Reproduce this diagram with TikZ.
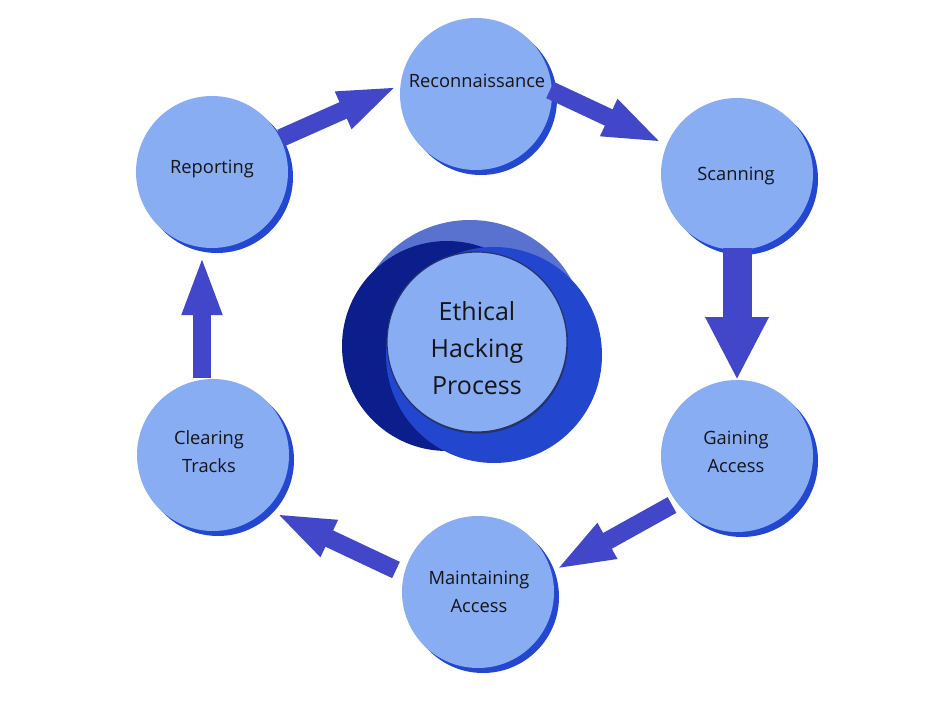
\documentclass[tikz,border=0pt]{standalone}
\usepackage{fontspec}
\setmainfont{Open Sans}
\usetikzlibrary{arrows.meta,calc,shadows}
\definecolor{lightb}{HTML}{88ADF3}
\definecolor{rimb}{HTML}{2447D1}
\definecolor{arrowb}{HTML}{4147C8}
\definecolor{navyb}{HTML}{0C1E8C}
\definecolor{midb}{HTML}{2346CF}
\definecolor{paleb}{HTML}{5A72CF}
\definecolor{edgeb}{HTML}{26336A}
\definecolor{txt}{HTML}{151515}
\begin{document}
\begin{tikzpicture}[x=1pt,y=-1pt,
  stage/.style={circle, fill=lightb, minimum size=152pt, inner sep=0pt,
    general shadow={fill=rimb, shadow xshift=5pt, shadow yshift=-5pt}},
  stagetext/.style={text=txt, align=center, anchor=base, inner sep=0pt,
    font=\fontsize{18.3}{27.5}\selectfont},
  titletext/.style={text=txt, align=center, anchor=base, inner sep=0pt,
    font=\fontsize{25}{37}\selectfont},
  flow/.style={draw=arrowb, line width=18pt, -{Triangle[length=60pt,width=36pt]}},
  bigflow/.style={draw=arrowb, line width=29pt, -{Triangle[length=63pt,width=59pt]}}]
\useasboundingbox[fill=white] (0,0) rectangle (952,714);

% centre emblem
\fill[paleb] (470,336) circle[radius=116pt];
\fill[navyb] (447,346) circle[radius=105pt];
\fill[midb] (494,355) circle[radius=108pt];
\node[circle, fill=lightb, draw=edgeb, line width=1.2pt, minimum size=180pt, inner sep=0pt,
  general shadow={fill=edgeb, shadow xshift=0.8pt, shadow yshift=-1.6pt}] (ctr) at (477,342) {};
\node[titletext] (title) at (477,394) {Ethical\\Hacking\\Process};

% stages
\node[stage] (rec) at (476,94) {};
\node[stage] (scan) at (737,174) {};
\node[stage] (gain) at (737,456) {};
\node[stage] (maint) at (478,592) {};
\node[stage] (clear) at (213,455) {};
\node[stage] (rep) at (212,172) {};

\node[stagetext] (recT) at (477,88) {Reconnaissance};
\node[stagetext] (scanT) at (736,181) {Scanning};
\node[stagetext] (gainT) at (736,472) {Gaining\\Access};
\node[stagetext] (maintT) at (479,612) {Maintaining\\Access};
\node[stagetext] (clearT) at (209,472) {Clearing\\Tracks};
\node[stagetext] (repT) at (212,174) {Reporting};

% arrows
\draw[flow] ($(rep)+(69,-34)$) -- ($(rec)+(-78,-8)$);
\draw[flow] ($(rec)+(74,-4)$) -- ($(scan)+(-74,-31)$);
\draw[bigflow] ($(scan)+(0,74)$) -- ($(gain)+(0,-76)$);
\draw[flow] ($(gain)+(-65,49)$) -- ($(maint)+(77,-22)$);
\draw[flow] ($(maint)+(-82,-22)$) -- ($(clear)+(62,58)$);
\draw[flow] ($(clear)+(-11,-77)$) -- ($(rep)+(-10,83)$);
\end{tikzpicture}
\end{document}
